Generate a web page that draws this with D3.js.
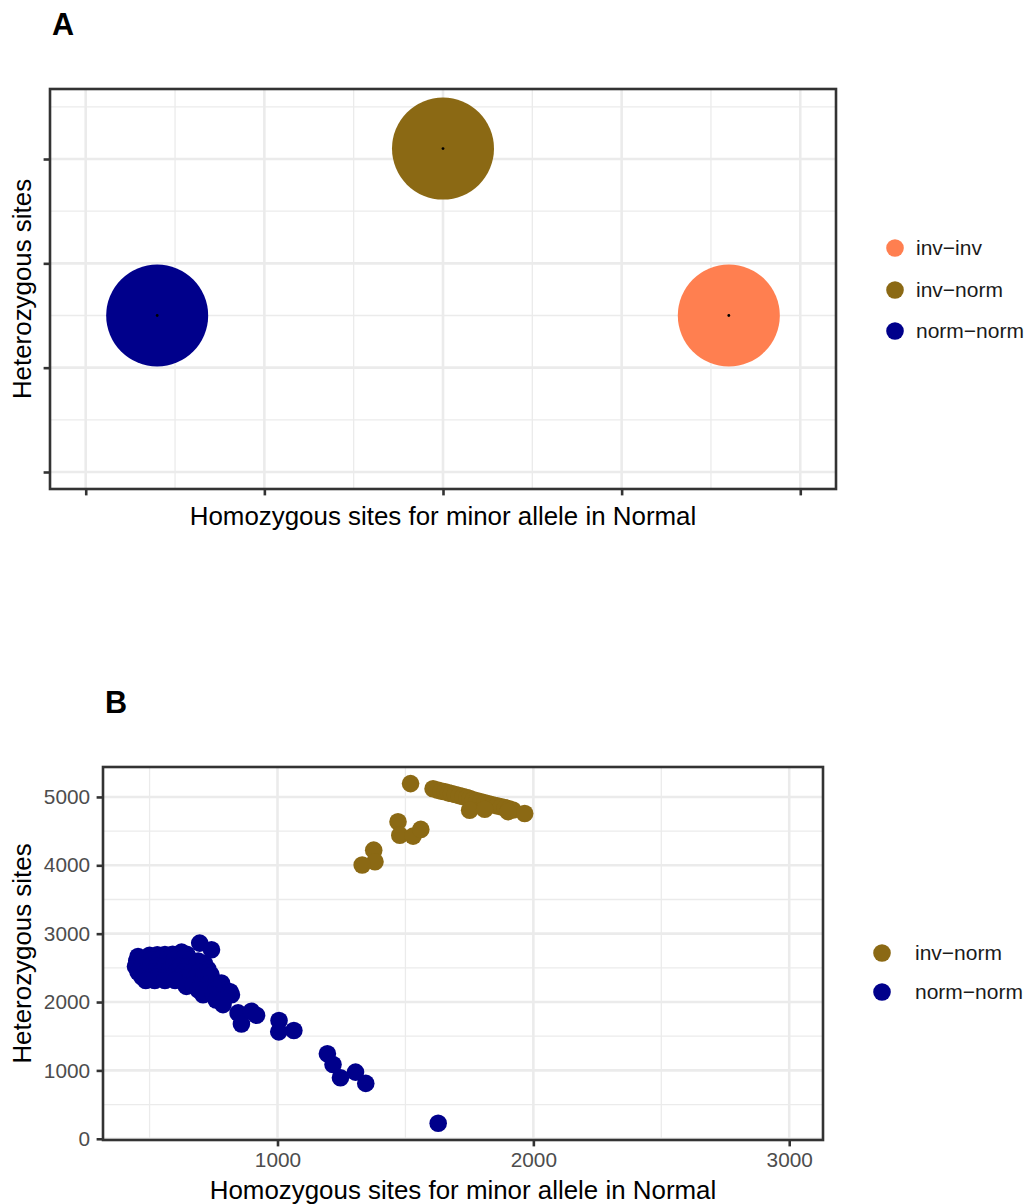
<!DOCTYPE html>
<html lang="en">
<head>
    <meta charset="UTF-8">
    <title>Heterozygous vs homozygous sites</title>
    <script type="text/javascript" src="https://cdn.jsdelivr.net/npm/d3@7"></script>
    <style>
        body { margin: 0; background: #fff; }
        svg text { font-family: "Liberation Sans", Arial, Helvetica, sans-serif; }
        .axis path { display: none; }
        .axis line { stroke: #333333; stroke-width: 2.6; }
        .axis text { font-size: 20.8px; fill: #4D4D4D; }
    </style>
</head>
<body>
    <script type="text/javascript">
        // genotype groups, shared by both panels
        let genotypes = ["inv\u2212inv", "inv\u2212norm", "norm\u2212norm"]
        let genotypeColors = ["#FF7F50", "#8B6914", "#00008B"]

        // panel A: one point per group (axis values hidden in the figure)
        let aX = [1.6, 0, -1.6]
        let aY = [1.5, 3.1, 1.5]
        let aTicksX = [-2, -1, 0, 1, 2]
        let aMinorX = [-1.5, -0.5, 0.5, 1.5]
        let aTicksY = [0, 1, 2, 3]
        let aMinorY = [0.5, 1.5, 2.5, 3.5]

        // panel B: individual samples
        let invNormHom = [1520, 1608, 1625, 1640, 1655, 1668, 1680, 1695, 1710, 1725, 1740, 1752, 1765, 1780,
            1795, 1810, 1825, 1840, 1858, 1875, 1890, 1905, 1920, 1966, 1751, 1810, 1901,
            1471, 1478, 1530, 1560, 1376, 1381, 1331]
        let invNormHet = [5195, 5120, 5100, 5085, 5075, 5060, 5050, 5035, 5020, 5005, 4990, 4975, 4960, 4945,
            4930, 4915, 4900, 4885, 4870, 4855, 4840, 4825, 4810, 4758, 4806, 4820, 4785,
            4636, 4441, 4427, 4525, 4222, 4052, 4004]

        let normNormHom = [455, 500, 530, 560, 590, 625, 645,
            450, 480, 510, 540, 570, 600, 630, 660, 690, 715,
            445, 470, 500, 530, 560, 590, 620, 650, 680, 710, 728,
            455, 485, 515, 545, 575, 605, 635, 665, 695, 725, 740,
            470, 500, 530, 560, 590, 620, 650, 680, 710, 735,
            485, 520, 560, 600,
            644, 670, 700, 730, 760, 781,
            690, 720, 760, 800, 815,
            709, 750, 790, 820,
            760, 790, 787,
            696, 742,
            846, 859, 898, 918,
            1006, 1005, 1064,
            1195, 1217, 1246, 1305, 1345, 1628]
        let normNormHet = [2667, 2685, 2690, 2695, 2700, 2730, 2700,
            2600, 2610, 2615, 2620, 2625, 2625, 2630, 2620, 2600, 2560,
            2520, 2520, 2520, 2520, 2520, 2520, 2520, 2520, 2520, 2510, 2480,
            2440, 2440, 2440, 2440, 2440, 2440, 2440, 2440, 2440, 2430, 2400,
            2370, 2360, 2360, 2360, 2360, 2360, 2360, 2360, 2350, 2375,
            2316, 2316, 2316, 2316,
            2229, 2250, 2250, 2260, 2270, 2278,
            2180, 2170, 2180, 2170, 2150,
            2108, 2100, 2090, 2108,
            2030, 2030, 1962,
            2862, 2764,
            1841, 1680, 1864, 1806,
            1729, 1564, 1583,
            1243, 1087, 893, 975, 810, 226]

        let bTicksX = [1000, 2000, 3000]
        let bMinorX = [500, 1500, 2500]
        let bTicksY = [0, 1000, 2000, 3000, 4000, 5000]
        let bMinorY = [500, 1500, 2500, 3500, 4500]

        let w = 1028, h = 1204
        let gridColor = "#EBEBEB"

        let svg = d3.select("body")
            .append("svg")
            .attr("width", w)
            .attr("height", h)

        function drawGrid(g, xs, ys, majX, minX, majY, minY) {
            let [x0, x1] = xs.range()
            let [y0, y1] = ys.range()
            g.selectAll(".minx").data(minX).enter().append("line")
                .attr("x1", (d) => xs(d)).attr("x2", (d) => xs(d))
                .attr("y1", y0).attr("y2", y1)
                .attr("stroke", gridColor).attr("stroke-width", 1.3)
            g.selectAll(".miny").data(minY).enter().append("line")
                .attr("x1", x0).attr("x2", x1)
                .attr("y1", (d) => ys(d)).attr("y2", (d) => ys(d))
                .attr("stroke", gridColor).attr("stroke-width", 1.3)
            g.selectAll(".majx").data(majX).enter().append("line")
                .attr("x1", (d) => xs(d)).attr("x2", (d) => xs(d))
                .attr("y1", y0).attr("y2", y1)
                .attr("stroke", gridColor).attr("stroke-width", 2.6)
            g.selectAll(".majy").data(majY).enter().append("line")
                .attr("x1", x0).attr("x2", x1)
                .attr("y1", (d) => ys(d)).attr("y2", (d) => ys(d))
                .attr("stroke", gridColor).attr("stroke-width", 2.6)
        }

        function drawBorder(g, xs, ys) {
            let [x0, x1] = xs.range()
            let [y0, y1] = ys.range()
            g.append("rect")
                .attr("x", x0).attr("y", y1)
                .attr("width", x1 - x0).attr("height", y0 - y1)
                .attr("fill", "none")
                .attr("stroke", "#333333")
                .attr("stroke-width", 2.6)
        }

        function drawTitles(xs, ys, xBase, tag, tagX, tagY) {
            let [x0, x1] = xs.range()
            let [y0, y1] = ys.range()
            svg.append("text")
                .attr("x", (x0 + x1) / 2).attr("y", xBase)
                .attr("text-anchor", "middle")
                .attr("font-size", "25.9px")
                .text("Homozygous sites for minor allele in Normal")
            svg.append("text")
                .attr("transform", "translate(31," + (y0 + y1) / 2 + ") rotate(-90)")
                .attr("text-anchor", "middle")
                .attr("font-size", "25.9px")
                .text("Heterozygous sites")
            svg.append("text")
                .attr("x", tagX).attr("y", tagY)
                .attr("font-size", "30.6px")
                .attr("font-weight", "bold")
                .text(tag)
        }

        function drawLegend(items, cx, tx, ys) {
            let lg = svg.append("g")
            lg.selectAll("circle").data(items).enter().append("circle")
                .attr("cx", cx)
                .attr("cy", (d, i) => ys[i])
                .attr("r", 8.8)
                .attr("fill", (d) => genotypeColors[d])
            lg.selectAll("text").data(items).enter().append("text")
                .attr("x", tx)
                .attr("y", (d, i) => ys[i])
                .attr("dy", "0.35em")
                .attr("font-size", "21px")
                .attr("fill", "#1A1A1A")
                .text((d) => genotypes[d])
        }

        // ---------- panel A ----------
        let xA = d3.scaleLinear().domain([-2.2, 2.2]).range([50, 836])
        let yA = d3.scaleLinear().domain([-0.163, 3.671]).range([489, 89])

        let gA = svg.append("g")
        drawGrid(gA, xA, yA, aTicksX, aMinorX, aTicksY, aMinorY)

        gA.selectAll(".pt").data(aX).enter().append("circle")
            .attr("cx", (d) => xA(d))
            .attr("cy", (d, i) => yA(aY[i]))
            .attr("r", 51)
            .attr("fill", (d, i) => genotypeColors[i])
        gA.selectAll(".dot").data(aX).enter().append("circle")
            .attr("cx", (d) => xA(d))
            .attr("cy", (d, i) => yA(aY[i]))
            .attr("r", 1.4)
            .attr("fill", "#000")

        drawBorder(gA, xA, yA)

        svg.append("g")
            .attr("class", "axis")
            .attr("transform", "translate(0,489)")
            .call(d3.axisBottom(xA).tickValues(aTicksX).tickSize(6.4).tickFormat(""))
        svg.append("g")
            .attr("class", "axis")
            .attr("transform", "translate(50,0)")
            .call(d3.axisLeft(yA).tickValues(aTicksY).tickSize(6.4).tickFormat(""))

        drawTitles(xA, yA, 525, "A", 52, 35)
        drawLegend([0, 1, 2], 895, 916, [248, 290, 331])

        // ---------- panel B ----------
        let xB = d3.scaleLinear().domain([318, 3132]).range([103, 823])
        let yB = d3.scaleLinear().domain([-18, 5438]).range([1140, 767])

        let gB = svg.append("g")
        drawGrid(gB, xB, yB, bTicksX, bMinorX, bTicksY, bMinorY)

        let bPoints = []
        invNormHom.forEach((d, i) => bPoints.push({ x: d, y: invNormHet[i], g: 1 }))
        normNormHom.forEach((d, i) => bPoints.push({ x: d, y: normNormHet[i], g: 2 }))

        gB.selectAll(".pt").data(bPoints).enter().append("circle")
            .attr("cx", (d) => xB(d.x))
            .attr("cy", (d) => yB(d.y))
            .attr("r", 8.8)
            .attr("fill", (d) => genotypeColors[d.g])

        drawBorder(gB, xB, yB)

        svg.append("g")
            .attr("class", "axis")
            .attr("transform", "translate(0,1140)")
            .call(d3.axisBottom(xB).tickValues(bTicksX).tickSize(6.4).tickPadding(6).tickFormat(d3.format("d")))
        svg.append("g")
            .attr("class", "axis")
            .attr("transform", "translate(103,0)")
            .call(d3.axisLeft(yB).tickValues(bTicksY).tickSize(6.4).tickPadding(6.5).tickFormat(d3.format("d")))

        drawTitles(xB, yB, 1199, "B", 105, 713)
        drawLegend([1, 2], 882, 915, [953, 992])
    </script>
</body>
</html>
